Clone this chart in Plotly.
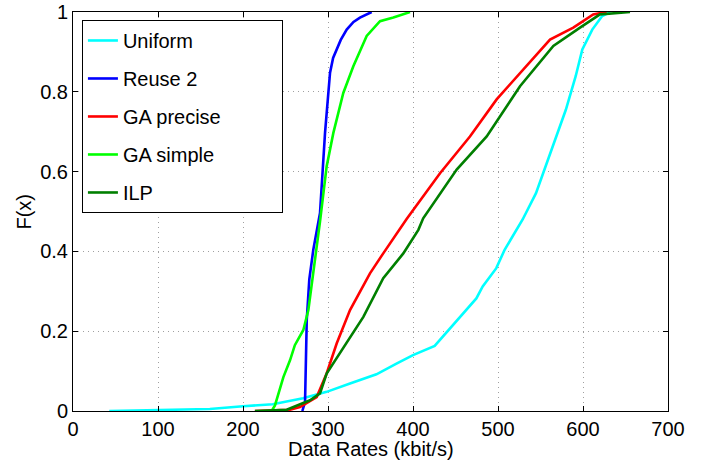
import plotly.graph_objects as go

uniform_x = [42.7, 102, 161, 200, 235, 270.6, 298.4, 325.9, 357, 380, 400, 425.5, 451, 474.5, 482, 498, 507.8, 529, 544.7, 564, 579.8, 591.4, 599.2, 610.9, 622.6, 632]
uniform_y = [0.0, 0.002, 0.005, 0.012, 0.017, 0.032, 0.048, 0.069, 0.092, 0.118, 0.14, 0.163, 0.224, 0.282, 0.312, 0.358, 0.404, 0.48, 0.546, 0.663, 0.755, 0.839, 0.906, 0.956, 0.99, 1.0]

reuse_x = [269.8, 271.5, 273, 275, 278, 282.7, 290.6, 296.5, 302.4, 306, 310, 315, 322, 330, 337.6, 351.4]
reuse_y = [0.0, 0.01, 0.023, 0.228, 0.33, 0.404, 0.496, 0.697, 0.848, 0.885, 0.906, 0.93, 0.956, 0.975, 0.986, 1.0]

gas_x = [233.7, 237.6, 247.5, 255.3, 261, 271, 276.9, 282.7, 290.6, 298.4, 306.3, 318, 329.8, 345.5, 361.2, 376.9, 388.6, 396.5]
gas_y = [0.0, 0.014, 0.085, 0.127, 0.165, 0.203, 0.253, 0.345, 0.475, 0.613, 0.697, 0.797, 0.864, 0.94, 0.977, 0.986, 0.994, 1.0]

gap_x = [214, 255, 267, 286.7, 298.4, 310.2, 325.9, 349.4, 365, 392.5, 431.8, 467, 498.4, 529.8, 561.2, 588.6, 612, 627.8]
gap_y = [0.0, 0.003, 0.01, 0.035, 0.094, 0.169, 0.253, 0.345, 0.395, 0.481, 0.596, 0.688, 0.781, 0.856, 0.931, 0.961, 0.994, 1.0]

ilp_x = [214, 251.4, 278.8, 290.6, 298.4, 318, 341.6, 365, 388.6, 406.3, 412, 451.4, 486.7, 525.9, 565.1, 596.5, 620, 655.3]
ilp_y = [0.0, 0.003, 0.027, 0.044, 0.094, 0.157, 0.236, 0.333, 0.395, 0.454, 0.483, 0.605, 0.688, 0.814, 0.915, 0.961, 0.994, 1.0]

x_ticks = [0, 100, 200, 300, 400, 500, 600, 700]
y_ticks = [0, 0.2, 0.4, 0.6, 0.8, 1]
y_tick_text = ["0", "0.2", "0.4", "0.6", "0.8", "1"]

names = ["Uniform", "Reuse 2", "GA precise", "GA simple", "ILP"]
colors = ["#00FFFF", "#0000FF", "#FF0000", "#00FF00", "#007F00"]
xs_all = [uniform_x, reuse_x, gap_x, gas_x, ilp_x]
ys_all = [uniform_y, reuse_y, gap_y, gas_y, ilp_y]

fig = go.Figure()
for name, xs, ys, c in zip(names, xs_all, ys_all, colors):
    label = name + ("\u00a0" * 10 if name == "GA precise" else "")
    fig.add_trace(go.Scatter(x=xs, y=ys, mode="lines", name=label,
                             legendgroup=name,
                             line=dict(color=c, width=2.6)))

axis_common = dict(
    showline=True, linecolor="black", linewidth=1, mirror="ticks",
    ticks="inside", ticklen=5, tickcolor="black",
    showgrid=True, gridcolor="#a0a0a0", griddash="1px,4px", gridwidth=1,
    zeroline=False, tickfont=dict(size=20, color="black"), automargin=False,
)

fig.update_layout(
    width=708, height=463,
    margin=dict(l=73, r=40, t=12, b=52),
    paper_bgcolor="white", plot_bgcolor="white",
    font=dict(family="Liberation Sans, Arial, sans-serif", color="black"),
    xaxis=dict(range=[0, 700], tickvals=x_ticks, ticktext=[str(v) for v in x_ticks], **axis_common),
    yaxis=dict(range=[0, 1], tickvals=y_ticks, ticktext=y_tick_text, **axis_common),
    legend=dict(x=0.015, y=0.98, xanchor="left", yanchor="top",
                bordercolor="black", borderwidth=1, bgcolor="white",
                font=dict(size=20), traceorder="grouped", tracegroupgap=9),
    showlegend=True,
    annotations=[
        dict(text="Data Rates (kbit/s)", xref="paper", yref="paper", x=0.5, y=-0.096,
             xanchor="center", yanchor="middle", showarrow=False, font=dict(size=20)),
        dict(text="F(x)", xref="paper", yref="paper", x=-0.084, y=0.5,
             xanchor="center", yanchor="middle", showarrow=False, textangle=-90, font=dict(size=20)),
    ],
)

fig.write_html("out.html", config={"displayModeBar": False},
               post_script="document.body.style.margin='0';")
